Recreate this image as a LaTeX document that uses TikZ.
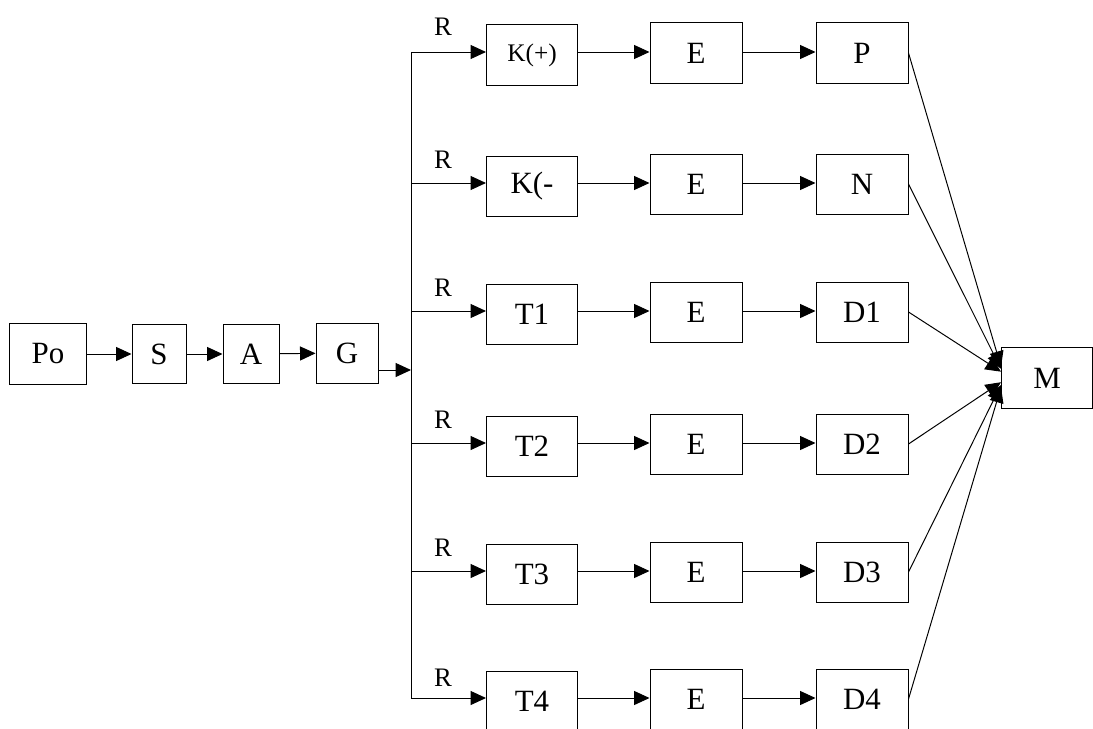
\documentclass[tikz,border=0pt]{standalone}
\usepackage{fontspec}
\setmainfont{Liberation Serif}
\usetikzlibrary{arrows.meta}

\begin{document}
\begin{tikzpicture}
  [x=0.025cm,y=-0.025cm,
   box/.style={rectangle,draw=black,line width=0.7pt,inner sep=0pt,
               minimum width=2.3cm,minimum height=1.5cm,
               font=\fontsize{22pt}{26pt}\selectfont},
   lbl/.style={font=\fontsize{19pt}{22pt}\selectfont,inner sep=0pt},
   arr/.style={line width=0.7pt,-{Triangle[length=11pt,width=10pt]}},
   ln/.style={line width=0.7pt}]
  \useasboundingbox (0,0) rectangle (1093,729);

  % left chain
  \node (po) at ( 48,354) [box,minimum width=1.9cm,minimum height=1.525cm] {Po};
  \node (s)  at (159,354) [box,minimum width=1.35cm,minimum height=1.475cm] {S};
  \node (a)  at (251,354) [box,minimum width=1.4cm,minimum height=1.475cm] {A};
  \node (g)  at (347,353) [box,minimum width=1.55cm] {G};
  \draw[arr] (po) -- (s);
  \draw[arr] (s) -- (a);
  \draw[arr] (a) -- (g);

  % bus
  \coordinate (b1) at (411, 52);
  \coordinate (b2) at (411,183);
  \coordinate (b3) at (411,311);
  \coordinate (b4) at (411,443);
  \coordinate (b5) at (411,571);
  \coordinate (b6) at (411,698);
  \coordinate (gin) at (411,370);
  \draw[ln] (b1) -- (b6);
  \draw[arr] (gin -| g.east) -- (gin);

  % first column
  \node (kp) at (532, 55) [box,minimum width=2.275cm,font=\fontsize{18pt}{22pt}\selectfont] {K(+)};
  \node (kn) at (532,186) [box,minimum width=2.275cm] {K(-};
  \node (t1) at (532,314) [box,minimum width=2.275cm] {T1};
  \node (t2) at (532,446) [box,minimum width=2.275cm] {T2};
  \node (t3) at (532,574) [box,minimum width=2.275cm] {T3};
  \node (t4) at (532,701) [box,minimum width=2.275cm] {T4};

  % second column
  \node (e1) at (696, 53) [box] {E};
  \node (e2) at (696,184) [box] {E};
  \node (e3) at (696,312) [box] {E};
  \node (e4) at (696,444) [box] {E};
  \node (e5) at (696,572) [box] {E};
  \node (e6) at (696,699) [box] {E};

  % third column
  \node (p)  at (862, 53) [box] {P};
  \node (n)  at (862,184) [box] {N};
  \node (d1) at (862,312) [box] {D1};
  \node (d2) at (862,444) [box] {D2};
  \node (d3) at (862,572) [box] {D3};
  \node (d4) at (862,699) [box] {D4};

  \node (m) at (1047,378) [box,minimum width=2.275cm,minimum height=1.525cm] {M};

  % R labels
  \node (r1) at (443, 27) [lbl] {R};
  \node (r2) at (443,160) [lbl] {R};
  \node (r3) at (443,288) [lbl] {R};
  \node (r4) at (443,420) [lbl] {R};
  \node (r5) at (443,548) [lbl] {R};
  \node (r6) at (443,678) [lbl] {R};

  % rows
  \draw[arr] (b1) -- (b1 -| kp.west);
  \draw[arr] (b2) -- (b2 -| kn.west);
  \draw[arr] (b3) -- (b3 -| t1.west);
  \draw[arr] (b4) -- (b4 -| t2.west);
  \draw[arr] (b5) -- (b5 -| t3.west);
  \draw[arr] (b6) -- (b6 -| t4.west);

  \draw[arr] (b1 -| kp.east) -- (b1 -| e1.west);
  \draw[arr] (b2 -| kn.east) -- (b2 -| e2.west);
  \draw[arr] (b3 -| t1.east) -- (b3 -| e3.west);
  \draw[arr] (b4 -| t2.east) -- (b4 -| e4.west);
  \draw[arr] (b5 -| t3.east) -- (b5 -| e5.west);
  \draw[arr] (b6 -| t4.east) -- (b6 -| e6.west);

  \draw[arr] (b1 -| e1.east) -- (b1 -| p.west);
  \draw[arr] (b2 -| e2.east) -- (b2 -| n.west);
  \draw[arr] (b3 -| e3.east) -- (b3 -| d1.west);
  \draw[arr] (b4 -| e4.east) -- (b4 -| d2.west);
  \draw[arr] (b5 -| e5.east) -- (b5 -| d3.west);
  \draw[arr] (b6 -| e6.east) -- (b6 -| d4.west);

  % into M
  \draw[arr] (p.east)  -- ([yshift=8pt]m.west);
  \draw[arr] (n.east)  -- ([yshift=6.5pt]m.west);
  \draw[arr] (d1.east) -- ([yshift=4.5pt]m.west);
  \draw[arr] (d2.east) -- ([yshift=-3pt]m.west);
  \draw[arr] (d3.east) -- ([yshift=-5pt]m.west);
  \draw[arr] (d4.east) -- ([yshift=-6.5pt]m.west);
\end{tikzpicture}
\end{document}
